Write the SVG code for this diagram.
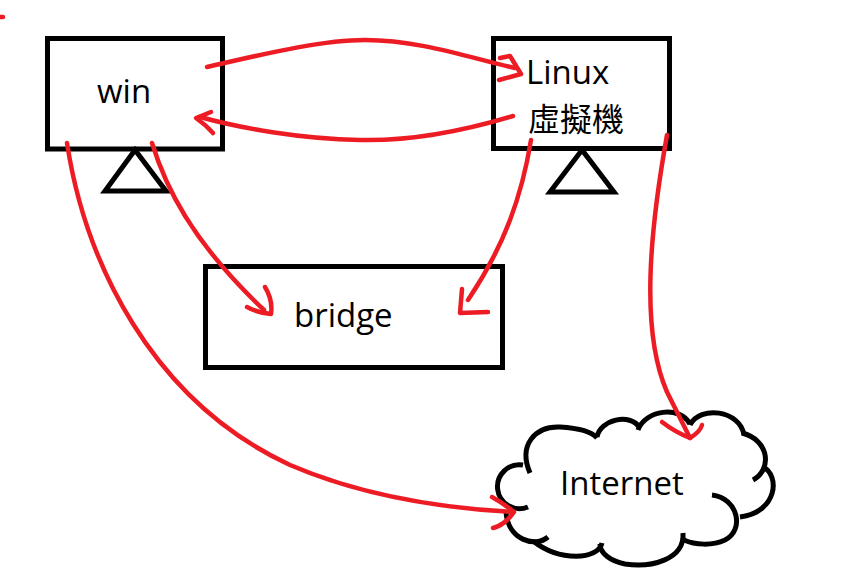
<svg xmlns="http://www.w3.org/2000/svg" width="846" height="576" viewBox="0 0 846 576">
<style>
.box{fill:#fff;stroke:#000;stroke-width:5}
.tri{fill:none;stroke:#000;stroke-width:5;stroke-linejoin:miter}
.cloud{fill:none;stroke:#000;stroke-width:5;stroke-linecap:butt}
.red{fill:none;stroke:#ed1c24;stroke-width:4.5;stroke-linecap:round;stroke-linejoin:round}
.lbl{font-family:"Open Sans","Noto Sans",sans-serif;font-size:33px;fill:#000}
.cjk{font-family:"Noto Sans CJK TC","Noto Sans CJK SC",sans-serif;font-size:32px;fill:#000}
</style>
<rect width="846" height="576" fill="#fff"/>
<g id="win">
<rect class="box" x="47.5" y="38.5" width="175" height="110.5"/>
<polygon class="tri" points="135,150 105,191 166,191"/>
<text class="lbl" x="97" y="103">win</text>
</g>
<g id="linux">
<rect class="box" x="493.5" y="38.5" width="176" height="110"/>
<polygon class="tri" points="582,150 550,192 614,192"/>
<text class="lbl" x="526" y="84">Linux</text>
<text class="cjk" x="528" y="131">虛擬機</text>
</g>
<g id="bridge">
<rect class="box" x="205.5" y="266.5" width="297" height="101"/>
<text class="lbl" x="294" y="327">bridge</text>
</g>
<g id="internet">
<path class="cloud" d="M523,465 A22,22 0 1 0 528,507"/>
<path class="cloud" d="M530,473 C518,445 535,426 560,427 C578,428 592,432 597,438"/>
<path class="cloud" d="M597,437 C600,420 630,412 640,428"/>
<path class="cloud" d="M638,430 C645,410 680,405 690,424"/>
<path class="cloud" d="M690,425 C700,405 740,410 744,435"/>
<path class="cloud" d="M742,433 C770,440 772,470 753,480"/>
<path class="cloud" d="M763,467 C780,475 778,512 740,517"/>
<path class="cloud" d="M712,495 C738,498 745,530 725,540 C712,546 695,545 684,540"/>
<path class="cloud" d="M683,533 C685,560 650,568 625,564 C610,561 600,553 600,544"/>
<path class="cloud" d="M602,543 C598,560 560,562 533,541"/>
<path class="cloud" d="M548,537 C535,548 508,540 506,512"/>
<text class="lbl" x="560" y="495">Internet</text>
</g>
<g id="connectors">
<path class="red" d="M207,67 C260,55 320,40 365,40 C420,40 470,58 515,68"/>
<path class="red" d="M500,58 L510,56 L521,74 L499,80"/>
<path class="red" d="M513,116 C450,135 400,141 360,140 C300,139 240,128 200,117"/>
<path class="red" d="M211,112 L196,118 Q206,125 213,133"/>
<path class="red" d="M152,143 C165,185 190,240 264,310"/>
<path class="red" d="M265,287 Q273,300 271,314 Q258,313 247,307"/>
<path class="red" d="M531,140 C522,195 505,245 468,300"/>
<path class="red" d="M462,289 L460,313 L488,312"/>
<path class="red" d="M667,135 C650,230 640,330 667,392 L690,438"/>
<path class="red" d="M662,422 Q675,432 690,438 Q700,432 702,425"/>
<path class="red" d="M67,143 C85,260 150,400 290,465 C360,495 440,508 513,512"/>
<path class="red" d="M492,497 Q503,503 514,512 Q505,525 493,528"/>
<path class="red" d="M0,17 L3,17"/>
</g>
</svg>
